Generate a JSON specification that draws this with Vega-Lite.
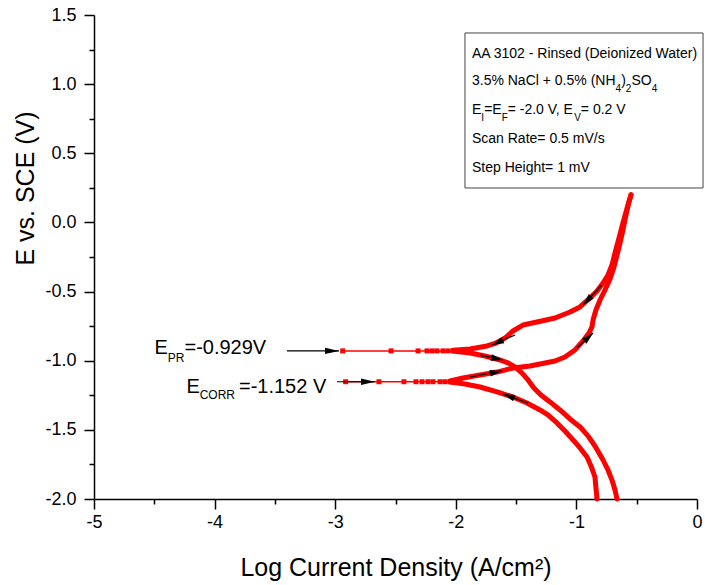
{
 "$schema": "https://vega.github.io/schema/vega-lite/v6.json",
 "width": 603,
 "height": 484,
 "autosize": {"type": "none"},
 "padding": {"left": 94, "top": 15, "right": 8, "bottom": 86},
 "background": "white",
 "config": {"view": {"stroke": null}, "font": "Liberation Sans"},
 "datasets": {
  "curve": [
   {"b":"F1","i":1,"x":-0.829,"y":-2.0},{"b":"F1","i":2,"x":-0.838,"y":-1.920},{"b":"F1","i":3,"x":-0.846,"y":-1.841},{"b":"F1","i":4,"x":-0.879,"y":-1.761},{"b":"F1","i":5,"x":-0.912,"y":-1.696},{"b":"F1","i":6,"x":-0.970,"y":-1.631},{"b":"F1","i":7,"x":-1.028,"y":-1.573},{"b":"F1","i":8,"x":-1.095,"y":-1.508},{"b":"F1","i":9,"x":-1.161,"y":-1.450},{"b":"F1","i":10,"x":-1.236,"y":-1.392},{"b":"F1","i":11,"x":-1.302,"y":-1.356},{"b":"F1","i":12,"x":-1.410,"y":-1.306},{"b":"F1","i":13,"x":-1.526,"y":-1.262},{"b":"F1","i":14,"x":-1.658,"y":-1.226},{"b":"F1","i":15,"x":-1.799,"y":-1.190},{"b":"F1","i":16,"x":-1.924,"y":-1.168},{"b":"F1","i":17,"x":-2.048,"y":-1.154},
   {"b":"F2","i":1,"x":-2.048,"y":-1.147},{"b":"F2","i":2,"x":-1.940,"y":-1.125},{"b":"F2","i":3,"x":-1.799,"y":-1.103},{"b":"F2","i":4,"x":-1.658,"y":-1.082},{"b":"F2","i":5,"x":-1.526,"y":-1.053},{"b":"F2","i":6,"x":-1.385,"y":-1.038},{"b":"F2","i":7,"x":-1.260,"y":-1.016},{"b":"F2","i":8,"x":-1.177,"y":-1.002},{"b":"F2","i":9,"x":-1.095,"y":-0.973},{"b":"F2","i":10,"x":-1.012,"y":-0.922},{"b":"F2","i":11,"x":-0.945,"y":-0.857},{"b":"F2","i":12,"x":-0.896,"y":-0.800},{"b":"F2","i":13,"x":-0.871,"y":-0.756},{"b":"F2","i":14,"x":-0.862,"y":-0.706},{"b":"F2","i":15,"x":-0.838,"y":-0.633},{"b":"F2","i":16,"x":-0.804,"y":-0.561},{"b":"F2","i":17,"x":-0.763,"y":-0.489},{"b":"F2","i":18,"x":-0.721,"y":-0.409},{"b":"F2","i":19,"x":-0.688,"y":-0.322},{"b":"F2","i":20,"x":-0.663,"y":-0.235},{"b":"F2","i":21,"x":-0.638,"y":-0.149},{"b":"F2","i":22,"x":-0.614,"y":-0.055},{"b":"F2","i":23,"x":-0.589,"y":0.054},{"b":"F2","i":24,"x":-0.564,"y":0.148},{"b":"F2","i":25,"x":-0.547,"y":0.2},
   {"b":"R1","i":1,"x":-0.547,"y":0.2},{"b":"R1","i":2,"x":-0.580,"y":0.104},{"b":"R1","i":3,"x":-0.614,"y":-0.004},{"b":"R1","i":4,"x":-0.647,"y":-0.113},{"b":"R1","i":5,"x":-0.680,"y":-0.221},{"b":"R1","i":6,"x":-0.705,"y":-0.308},{"b":"R1","i":7,"x":-0.738,"y":-0.380},{"b":"R1","i":8,"x":-0.779,"y":-0.438},{"b":"R1","i":9,"x":-0.829,"y":-0.496},{"b":"R1","i":10,"x":-0.887,"y":-0.546},{"b":"R1","i":11,"x":-0.970,"y":-0.611},{"b":"R1","i":12,"x":-1.053,"y":-0.648},{"b":"R1","i":13,"x":-1.177,"y":-0.691},{"b":"R1","i":14,"x":-1.327,"y":-0.720},{"b":"R1","i":15,"x":-1.443,"y":-0.742},{"b":"R1","i":16,"x":-1.526,"y":-0.785},{"b":"R1","i":17,"x":-1.592,"y":-0.836},{"b":"R1","i":18,"x":-1.667,"y":-0.872},{"b":"R1","i":19,"x":-1.741,"y":-0.893},{"b":"R1","i":20,"x":-1.882,"y":-0.915},{"b":"R1","i":21,"x":-2.023,"y":-0.925},
   {"b":"R2","i":1,"x":-2.023,"y":-0.930},{"b":"R2","i":2,"x":-1.882,"y":-0.944},{"b":"R2","i":3,"x":-1.758,"y":-0.966},{"b":"R2","i":4,"x":-1.633,"y":-0.995},{"b":"R2","i":5,"x":-1.567,"y":-1.016},{"b":"R2","i":6,"x":-1.509,"y":-1.045},{"b":"R2","i":7,"x":-1.451,"y":-1.089},{"b":"R2","i":8,"x":-1.401,"y":-1.139},{"b":"R2","i":9,"x":-1.352,"y":-1.197},{"b":"R2","i":10,"x":-1.294,"y":-1.248},{"b":"R2","i":11,"x":-1.219,"y":-1.298},{"b":"R2","i":12,"x":-1.136,"y":-1.356},{"b":"R2","i":13,"x":-1.053,"y":-1.421},{"b":"R2","i":14,"x":-0.970,"y":-1.479},{"b":"R2","i":15,"x":-0.904,"y":-1.544},{"b":"R2","i":16,"x":-0.846,"y":-1.617},{"b":"R2","i":17,"x":-0.779,"y":-1.718},{"b":"R2","i":18,"x":-0.738,"y":-1.790},{"b":"R2","i":19,"x":-0.705,"y":-1.863},{"b":"R2","i":20,"x":-0.680,"y":-1.935},{"b":"R2","i":21,"x":-0.663,"y":-2.0}
  ],
  "tails": [
   {"b":"PR","i":1,"x":-2.938,"y":-0.929},{"b":"PR","i":2,"x":-2.537,"y":-0.929},{"b":"PR","i":3,"x":-2.313,"y":-0.929},{"b":"PR","i":4,"x":-2.239,"y":-0.929},{"b":"PR","i":5,"x":-2.197,"y":-0.929},{"b":"PR","i":6,"x":-2.156,"y":-0.929},{"b":"PR","i":7,"x":-2.106,"y":-0.929},{"b":"PR","i":8,"x":-2.065,"y":-0.929},{"b":"PR","i":9,"x":-2.023,"y":-0.929},
   {"b":"CORR","i":1,"x":-2.913,"y":-1.152},{"b":"CORR","i":2,"x":-2.637,"y":-1.152},{"b":"CORR","i":3,"x":-2.430,"y":-1.152},{"b":"CORR","i":4,"x":-2.330,"y":-1.152},{"b":"CORR","i":5,"x":-2.280,"y":-1.152},{"b":"CORR","i":6,"x":-2.231,"y":-1.152},{"b":"CORR","i":7,"x":-2.189,"y":-1.152},{"b":"CORR","i":8,"x":-2.131,"y":-1.152},{"b":"CORR","i":9,"x":-2.090,"y":-1.152},{"b":"CORR","i":10,"x":-2.048,"y":-1.152}
  ],
  "arrows": [
   {"k":"c","x":-1.609,"y":-1.241,"x2":-1.401,"y2":-1.306},
   {"k":"c","x":-1.617,"y":-1.074,"x2":-1.882,"y2":-1.118},
   {"k":"c","x":-0.862,"y":-0.800,"x2":-0.995,"y2":-0.908},
   {"k":"c","x":-0.945,"y":-0.597,"x2":-0.788,"y2":-0.452},
   {"k":"c","x":-1.700,"y":-0.886,"x2":-1.509,"y2":-0.814},
   {"k":"c","x":-1.609,"y":-0.995,"x2":-1.799,"y2":-0.959},
   {"k":"n","x":-2.968,"y":-0.929,"x2":-3.400,"y2":-0.929},
   {"k":"n","x":-2.670,"y":-1.152,"x2":-2.985,"y2":-1.152}
  ],
  "box": [
   {"x":-1.924,"x2":0.05,"y":1.37,"y2":0.249}
  ],
  "texts": [
   {"g":"note","t":"E","x":-4.499,"y":-0.951},
   {"g":"noteSub","t":"PR","x":-4.389,"y":-1.007},
   {"g":"note","t":"=-0.929V","x":-4.250,"y":-0.951},
   {"g":"note","t":"E","x":-4.234,"y":-1.231},
   {"g":"noteSub","t":"CORR","x":-4.124,"y":-1.277},
   {"g":"note","t":"=-1.152 V","x":-3.798,"y":-1.231},
   {"g":"box","t":"AA 3102 - Rinsed (Deionized Water)","x":-1.866,"y":1.189},
   {"g":"box","t":"3.5% NaCl + 0.5% (NH","x":-1.866,"y":0.994},
   {"g":"boxSub","t":"4","x":-0.676,"y":0.945},
   {"g":"box","t":")","x":-0.629,"y":0.994},
   {"g":"boxSub","t":"2","x":-0.590,"y":0.945},
   {"g":"box","t":"SO","x":-0.544,"y":0.994},
   {"g":"boxSub","t":"4","x":-0.376,"y":0.945},
   {"g":"box","t":"E","x":-1.866,"y":0.785},
   {"g":"boxSub","t":"I","x":-1.789,"y":0.735},
   {"g":"box","t":"=E","x":-1.765,"y":0.785},
   {"g":"boxSub","t":"F","x":-1.620,"y":0.735},
   {"g":"box","t":"= -2.0 V, E","x":-1.570,"y":0.785},
   {"g":"boxSub","t":"V","x":-1.018,"y":0.735},
   {"g":"box","t":"= 0.2 V","x":-0.963,"y":0.785},
   {"g":"box","t":"Scan Rate= 0.5 mV/s","x":-1.866,"y":0.574},
   {"g":"box","t":"Step Height= 1 mV","x":-1.866,"y":0.365}
  ]
 },
 "encoding": {
  "x": {"field": "x", "type": "quantitative",
   "scale": {"domain": [-5, 0], "nice": false, "zero": false},
   "axis": {"title": "Log Current Density (A/cm²)", "values": [-5,-4.5,-4,-3.5,-3,-2.5,-2,-1.5,-1,-0.5,0],
    "labelExpr": "datum.value % 1 == 0 ? (datum.value < 0 ? '-' : '') + format(abs(datum.value), 'd') : ''",
    "tickSize": {"condition": {"test": "datum.value % 1 != 0", "value": 5}, "value": 10},
    "labelFlush": false, "labelOverlap": false, "grid": false,
    "domainColor": "black", "tickColor": "black", "domainWidth": 1.5, "tickWidth": 1.5,
    "labelFontSize": 18, "labelColor": "black", "labelPadding": 4, "labelFont": "Liberation Sans",
    "titleFontSize": 25, "titleFontWeight": "normal", "titleColor": "black", "titleFont": "Liberation Sans",
    "titleY": 76, "titleBaseline": "alphabetic"}},
  "y": {"field": "y", "type": "quantitative",
   "scale": {"domain": [-2, 1.5], "nice": false, "zero": false},
   "axis": {"title": "E vs. SCE (V)", "values": [-2,-1.75,-1.5,-1.25,-1,-0.75,-0.5,-0.25,0,0.25,0.5,0.75,1,1.25,1.5],
    "labelExpr": "(datum.value * 2) % 1 == 0 ? (datum.value < 0 ? '-' : '') + format(abs(datum.value), '.1f') : ''",
    "tickSize": {"condition": {"test": "(datum.value * 2) % 1 != 0", "value": 5}, "value": 10},
    "labelOverlap": false, "grid": false,
    "domainColor": "black", "tickColor": "black", "domainWidth": 1.5, "tickWidth": 1.5,
    "labelFontSize": 18, "labelColor": "black", "labelPadding": 8, "labelFont": "Liberation Sans",
    "titleFontSize": 25, "titleFontWeight": "normal", "titleColor": "black", "titleFont": "Liberation Sans",
    "titleX": -69, "titleY": 173, "titleBaseline": "middle", "titleAlign": "center", "titleAngle": 270}}
 },
 "layer": [
  {"data": {"name": "box"}, "mark": {"type": "rect", "fill": "white", "stroke": "#444444", "strokeWidth": 1},
   "encoding": {"x2": {"field": "x2"}, "y2": {"field": "y2"}}},
  {"data": {"name": "curve"}, "mark": {"type": "line", "color": "#ff0000", "strokeWidth": 5, "strokeJoin": "round", "strokeCap": "round"},
   "encoding": {"detail": {"field": "b"}, "order": {"field": "i", "type": "quantitative"}}},
  {"data": {"name": "tails"}, "mark": {"type": "line", "color": "#ff0000", "strokeWidth": 1.5, "point": {"shape": "square", "filled": true, "size": 25, "color": "#ff0000", "opacity": 1}},
   "encoding": {"detail": {"field": "b"}, "order": {"field": "i", "type": "quantitative"}}},
  {"data": {"name": "arrows"}, "mark": {"type": "rule", "color": "black", "strokeWidth": 1.2},
   "encoding": {"x2": {"field": "x2"}, "y2": {"field": "y2"}}},
  {"data": {"name": "arrows"},
   "transform": [{"filter": "datum.k == 'c'"}, {"calculate": "atan2(-(datum.y - datum.y2) * 138.29, (datum.x - datum.x2) * 120.6) * 180 / PI", "as": "ang"}],
   "mark": {"type": "point", "shape": "M0,0L-2,-0.55L-2,0.55Z", "filled": true, "color": "black", "opacity": 1, "size": 144, "strokeWidth": 0},
   "encoding": {"angle": {"field": "ang", "type": "quantitative", "scale": null}}},
  {"data": {"name": "arrows"},
   "transform": [{"filter": "datum.k == 'n'"}, {"calculate": "atan2(-(datum.y - datum.y2) * 138.29, (datum.x - datum.x2) * 120.6) * 180 / PI", "as": "ang"}],
   "mark": {"type": "point", "shape": "M0,0L-2,-0.45L-2,0.45Z", "filled": true, "color": "black", "opacity": 1, "size": 196, "strokeWidth": 0},
   "encoding": {"angle": {"field": "ang", "type": "quantitative", "scale": null}}},
  {"data": {"name": "texts"}, "transform": [{"filter": "datum.g == 'note'"}],
   "mark": {"type": "text", "align": "left", "baseline": "alphabetic", "fontSize": 20, "color": "black", "font": "Liberation Sans"},
   "encoding": {"text": {"field": "t"}}},
  {"data": {"name": "texts"}, "transform": [{"filter": "datum.g == 'noteSub'"}],
   "mark": {"type": "text", "align": "left", "baseline": "alphabetic", "fontSize": 12, "color": "black", "font": "Liberation Sans"},
   "encoding": {"text": {"field": "t"}}},
  {"data": {"name": "texts"}, "transform": [{"filter": "datum.g == 'box'"}],
   "mark": {"type": "text", "align": "left", "baseline": "alphabetic", "fontSize": 14, "color": "black", "font": "Liberation Sans"},
   "encoding": {"text": {"field": "t"}}},
  {"data": {"name": "texts"}, "transform": [{"filter": "datum.g == 'boxSub'"}],
   "mark": {"type": "text", "align": "left", "baseline": "alphabetic", "fontSize": 10, "color": "black", "font": "Liberation Sans"},
   "encoding": {"text": {"field": "t"}}}
 ]
}
